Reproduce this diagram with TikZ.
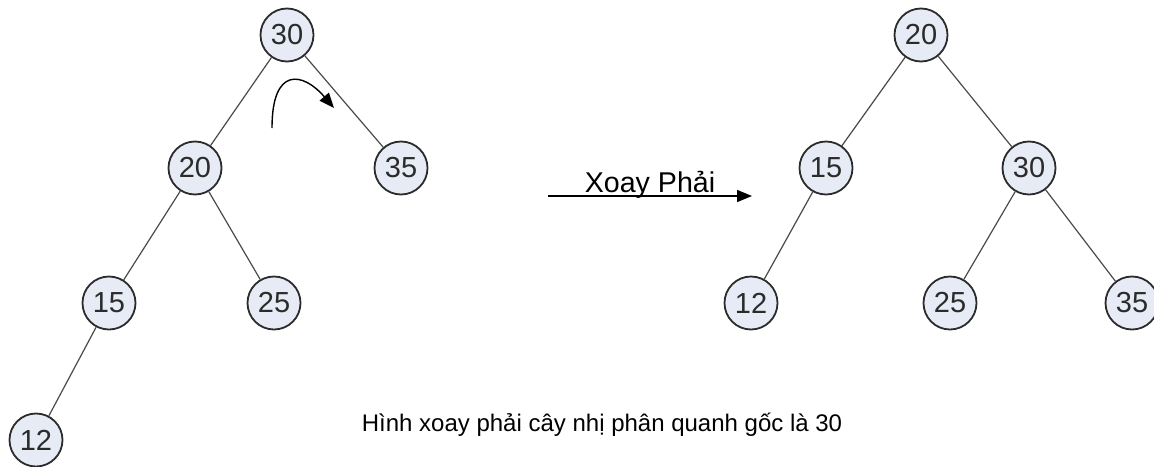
\documentclass[tikz,border=0pt]{standalone}
\usepackage{fontspec}
\setmainfont{Liberation Sans}
\usepackage{tikz}
\usepackage{xcolor}
\usetikzlibrary{arrows.meta,positioning}
\definecolor{ink}{HTML}{2B2B2B}
\definecolor{edgegray}{HTML}{4A4A4A}
\definecolor{nodebg}{HTML}{E6EBF5}
\tikzset{
  keynode/.style={
    draw=ink, fill=nodebg, line width=0.9pt, circle,
    inner sep=0pt, minimum size=26.5pt,
    font=\fontsize{14.5}{16}\selectfont, text=ink
  },
  treeedge/.style={draw=edgegray, line width=0.6pt},
  rotarrow/.style={draw=black, line width=0.7pt, -{Triangle[length=7.5pt,width=6pt]}}
}

\begin{document}
\begin{tikzpicture}[x=0.5pt,y=-0.5pt]
  \useasboundingbox (0,0) rectangle (1154,466);

  % tree before the rotation
  \node[keynode] (a30) at (287,35) {30};
  \node[keynode] (a20) at (195,168) {20};
  \node[keynode] (a35) at (401,168) {35};
  \node[keynode] (a15) at (109,303) {15};
  \node[keynode] (a25) at (274,303) {25};
  \node[keynode] (a12) at (36,440) {12};
  \draw[treeedge] (a30) -- (a20) (a30) -- (a35)
                  (a20) -- (a15) (a20) -- (a25)
                  (a15) -- (a12);

  % direction of the rotation
  \coordinate (turnfrom) at (272,128);
  \coordinate (turnto) at (334,108);
  \draw[rotarrow] (turnfrom) .. controls (272,66) and (303,72) .. (turnto);

  % tree after the rotation
  \node[keynode] (b20) at (921,35) {20};
  \node[keynode] (b15) at (826,168) {15};
  \node[keynode] (b30) at (1029,168) {30};
  \node[keynode] (b12) at (751,303) {12};
  \node[keynode] (b25) at (950,303) {25};
  \node[keynode] (b35) at (1132,303) {35};
  \draw[treeedge] (b20) -- (b15) (b20) -- (b30)
                  (b15) -- (b12)
                  (b30) -- (b25) (b30) -- (b35);

  \coordinate (stepfrom) at (548,196);
  \coordinate (stepto) at (752,196);
  \draw[rotarrow] (stepfrom) -- (stepto);
  \node[font=\fontsize{14.3}{16}\selectfont, anchor=base] (steplabel) at (650,192) {Xoay Phải};

  \node[font=\fontsize{12}{14}\selectfont, anchor=base] (caption) at (602,431)
    {Hình xoay phải cây nhị phân quanh gốc là 30};
\end{tikzpicture}
\end{document}
